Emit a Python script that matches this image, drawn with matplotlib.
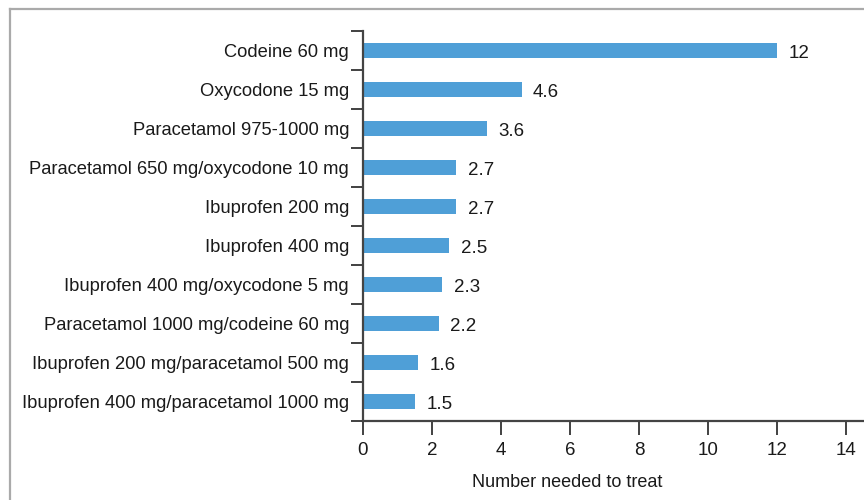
import matplotlib.pyplot as plt
import numpy as np

# analgesic regimens and their number needed to treat
drugs = ["Codeine 60 mg",
         "Oxycodone 15 mg",
         "Paracetamol 975-1000 mg",
         "Paracetamol 650 mg/oxycodone 10 mg",
         "Ibuprofen 200 mg",
         "Ibuprofen 400 mg",
         "Ibuprofen 400 mg/oxycodone 5 mg",
         "Paracetamol 1000 mg/codeine 60 mg",
         "Ibuprofen 200 mg/paracetamol 500 mg",
         "Ibuprofen 400 mg/paracetamol 1000 mg"]
nnt = [12, 4.6, 3.6, 2.7, 2.7, 2.5, 2.3, 2.2, 1.6, 1.5]
xticks = [0, 2, 4, 6, 8, 10, 12, 14]

plt.rcParams['font.family'] = ['Liberation Sans', 'DejaVu Sans']
W, H = 864, 500
fig = plt.figure(figsize=(W / 100, H / 100), dpi=100)

# grey frame line along the top and left edge
fig.add_artist(plt.Line2D([10 / W, 10 / W], [0, 1 - 9 / H], color='#aaaaaa', lw=1.6))
fig.add_artist(plt.Line2D([10 / W, 1], [1 - 9 / H, 1 - 9 / H], color='#aaaaaa', lw=1.6))

left, right = 363, 864
top, bottom = 31, 421
ax = fig.add_axes([left / W, 1 - bottom / H, (right - left) / W, (bottom - top) / H])

y = np.arange(len(drugs))
ax.barh(y, nnt, height=0.41, color='#4f9fd7')
ax.set_ylim(len(drugs) - 0.5, -0.5)
px_per_unit = 34.5
ax.set_xlim(0, (right - left) / px_per_unit)

for yi, v in zip(y, nnt):
    ax.text(v + 0.33, yi + 0.07, str(v), va='center', ha='left', fontsize=13.5, color='#1a1a1a')

# labels sit between the boundary ticks
ax.set_yticks(y)
ax.set_yticklabels(drugs, fontsize=13.2, color='#1a1a1a')
ax.tick_params(axis='y', which='major', length=0, pad=10)
ax.set_yticks(np.arange(-0.5, len(drugs), 1), minor=True)
ax.tick_params(axis='y', which='minor', length=9, width=1.3, color='#333333')

ax.set_xticks(xticks)
ax.set_xticklabels([str(t) for t in xticks], fontsize=13.5, color='#1a1a1a')
ax.tick_params(axis='x', length=10, width=1.3, color='#333333', pad=5)
ax.set_xlabel("Number needed to treat", fontsize=13, color='#1a1a1a')
ax.xaxis.set_label_coords((567 - left) / (right - left), -0.135)

for s in ['top', 'right']:
    ax.spines[s].set_visible(False)
for s in ['left', 'bottom']:
    ax.spines[s].set_color('#444444')
    ax.spines[s].set_linewidth(1.6)

fig.savefig('out.png', dpi=100)
